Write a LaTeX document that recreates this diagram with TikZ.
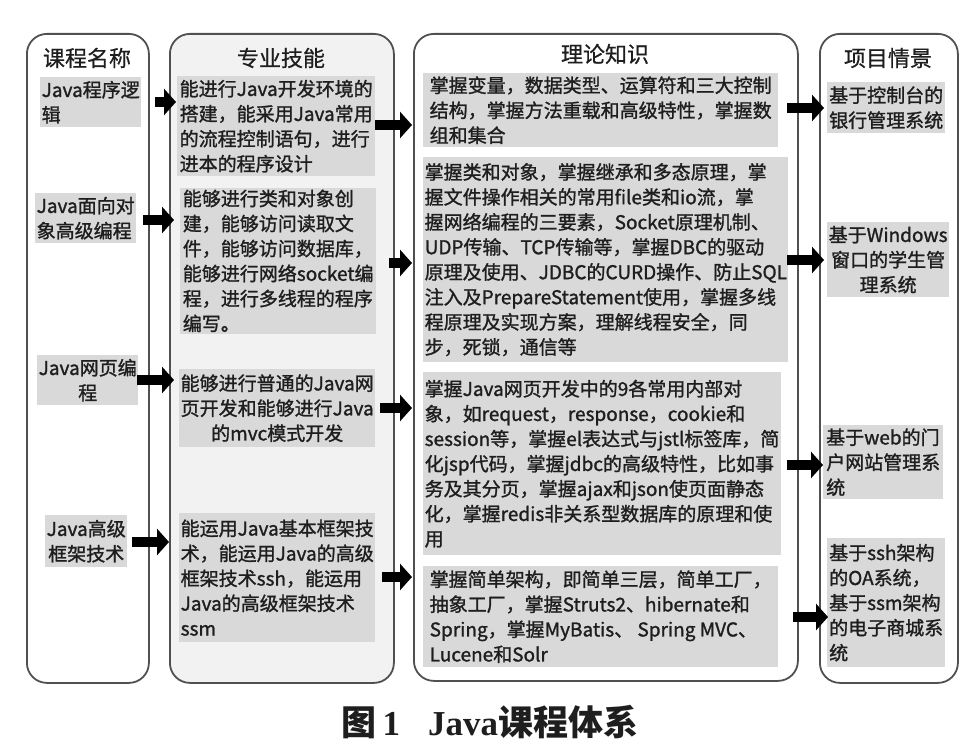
\documentclass[tikz,border=0pt]{standalone}
\usepackage{fontspec}
\setmainfont{Noto Sans CJK SC}
\newfontfamily\bodyfont{Noto Sans CJK SC}[FakeBold=1.3]
\newfontfamily\headfont{Noto Sans CJK SC}[FakeBold=0.6]
\newfontfamily\capserif{Liberation Serif}
\usetikzlibrary{arrows.meta}
\definecolor{framec}{HTML}{505050}
\definecolor{boxg}{HTML}{D9D9D9}
\definecolor{colg}{HTML}{F2F2F2}
\definecolor{txt}{HTML}{1E1E1E}
\begin{document}
\begin{tikzpicture}[x=1pt,y=-1pt,
  colframe/.style={draw=framec, line width=1.8pt, rounded corners=20pt, anchor=north west, inner sep=0pt},
  head/.style={font=\headfont\fontsize{22}{26}\selectfont, text=txt},
  gbox/.style={fill=boxg, anchor=north west, inner sep=1.5pt, font=\bodyfont\fontsize{19}{25}\selectfont, text=txt},
  blk/.style={line width=10pt, -{Triangle[width=26pt,length=12pt]}, black}
]
\useasboundingbox (0,0) rectangle (975,752);
% column frames
\node[colframe, minimum width=122pt, minimum height=649pt] (col1) at (26,33) {};
\node[colframe, fill=colg, minimum width=224pt, minimum height=649pt] (col2) at (169,33) {};
\node[colframe, minimum width=384pt, minimum height=647pt] (col3) at (413,33) {};
\node[colframe, minimum width=138pt, minimum height=649pt] (col4) at (819,33) {};
% headers
\node[head] (h1) at (87,58) {课程名称};
\node[head] (h2) at (281,58) {专业技能};
\node[head] (h3) at (605,54) {理论知识};
\node[head] (h4) at (888,58) {项目情景};
% column 1
\node[gbox, align=left, minimum width=95pt, minimum height=50pt] (c1a) at (40,77) {Java程序逻\\辑};
\node[gbox, align=left, minimum width=98pt, minimum height=50pt] (c1b) at (35,193) {Java面向对\\象高级编程};
\node[gbox, align=center, minimum width=93pt, minimum height=50pt] (c1c) at (37,355) {Java网页编\\程};
\node[gbox, align=center, minimum width=80pt, minimum height=52pt] (c1d) at (45,515) {Java高级\\框架技术};
% column 2
\node[gbox, align=left, minimum width=198pt, minimum height=100pt] (c2a) at (177,76) {能进行Java开发环境的\\搭建，能采用Java常用\\的流程控制语句，进行\\进本的程序设计};
\node[gbox, align=left, minimum width=196pt, minimum height=145pt] (c2b) at (180,188) {能够进行类和对象创\\建，能够访问读取文\\件，能够访问数据库，\\能够进行网络socket编\\程，进行多线程的程序\\编写。};
\node[gbox, align=center, minimum width=192pt, minimum height=78pt] (c2c) at (179,369) {能够进行普通的Java网\\页开发和能够进行Java\\的mvc模式开发};
\node[gbox, align=left, minimum width=193pt, minimum height=129pt] (c2d) at (179,513) {能运用Java基本框架技\\术，能运用Java的高级\\框架技术ssh，能运用\\Java的高级框架技术\\ssm};
% column 3
\node[gbox, align=left, minimum width=355pt, minimum height=74pt] (c3a) at (423,73) {掌握变量，数据类型、运算符和三大控制\\结构，掌握方法重载和高级特性，掌握数\\组和集合};
\node[gbox, align=left, minimum width=355pt, minimum height=205pt] (c3b) at (423,157) {掌握类和对象，掌握继承和多态原理，掌\\握文件操作相关的常用file类和io流，掌\\握网络编程的三要素，Socket原理机制、\\UDP传输、TCP传输等，掌握DBC的驱动\\原理及使用、JDBC的CURD操作、防止SQL\\注入及PrepareStatement使用，掌握多线\\程原理及实现方案，理解线程安全，同\\步，死锁，通信等};
\node[gbox, align=left, minimum width=355pt, minimum height=183pt] (c3c) at (423,372) {掌握Java网页开发中的9各常用内部对\\象，如request，response，cookie和\\session等，掌握el表达式与jstl标签库，简\\化jsp代码，掌握jdbc的高级特性，比如事\\务及其分页，掌握ajax和json使页面静态\\化，掌握redis非关系型数据库的原理和使\\用};
\node[gbox, align=left, minimum width=355pt, minimum height=101pt] (c3d) at (423,566) {掌握简单架构，即简单三层，简单工厂，\\抽象工厂，掌握Struts2、hibernate和\\Spring，掌握MyBatis、 Spring MVC、\\Lucene和Solr};
% column 4
\node[gbox, align=left, minimum width=118pt, minimum height=51pt] (c4a) at (827,82) {基于控制台的\\银行管理系统};
\node[gbox, align=center, minimum width=118pt, minimum height=75pt] (c4b) at (827,222) {基于Windows\\窗口的学生管\\理系统};
\node[gbox, align=left, minimum width=120pt, minimum height=74pt] (c4c) at (823,425) {基于web的门\\户网站管理系\\统};
\node[gbox, align=left, minimum width=118pt, minimum height=129pt] (c4d) at (827,538) {基于ssh架构\\的OA系统，\\基于ssm架构\\的电子商城系\\统};
% arrow ends
\coordinate (s11) at (155,102); \coordinate (e11) at (176,102);
\coordinate (s12) at (143,220); \coordinate (e12) at (174,220);
\coordinate (s13) at (137,380); \coordinate (e13) at (174,380);
\coordinate (s14) at (132,542); \coordinate (e14) at (169,542);
\coordinate (s21) at (375,125); \coordinate (e21) at (412,125);
\coordinate (s22) at (389,263); \coordinate (e22) at (412,263);
\coordinate (s23) at (380,408); \coordinate (e23) at (412,408);
\coordinate (s24) at (382,577); \coordinate (e24) at (412,577);
\coordinate (s31) at (787,108); \coordinate (e31) at (824,108);
\coordinate (s32) at (787,260); \coordinate (e32) at (824,260);
\coordinate (s33) at (787,465); \coordinate (e33) at (823,465);
\coordinate (s34) at (793,617); \coordinate (e34) at (828,617);
\foreach \i in {11,12,13,14,21,22,23,24,31,32,33,34}{\draw[blk] (s\i) -- (e\i);}
% caption
\node[font=\fontsize{35}{40}\selectfont\bfseries, text=txt] (cap) at (490,722) {图\,{\capserif 1}\hspace{0.8em}{\capserif Java}课程体系};
\end{tikzpicture}
\end{document}
